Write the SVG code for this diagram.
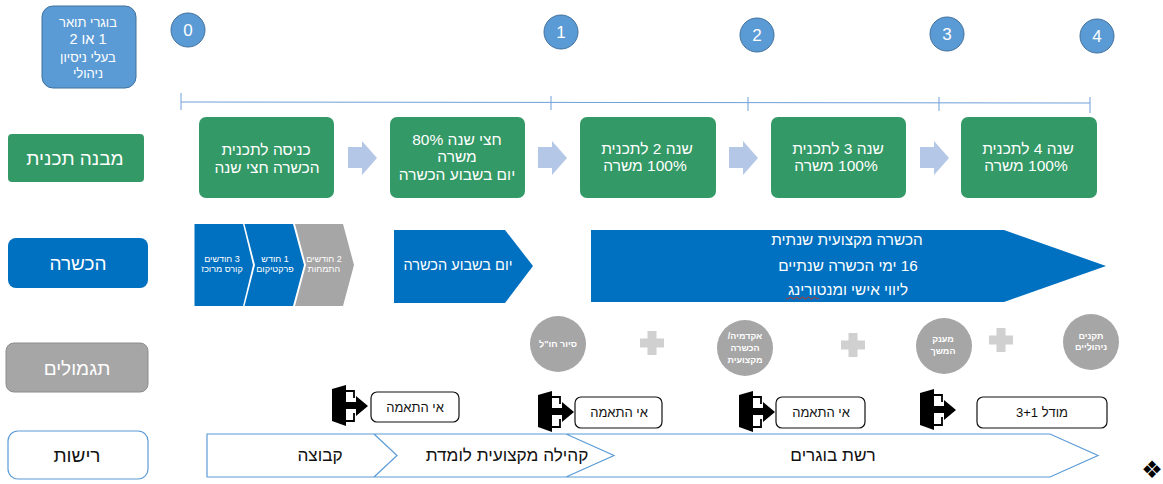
<svg xmlns="http://www.w3.org/2000/svg" width="1163" height="484" viewBox="0 0 1163 484">
<style>
text{font-family:"Liberation Sans",Arial,sans-serif;text-anchor:middle;direction:rtl;unicode-bidi:plaintext}
.w{fill:#fff}.k{fill:#111}
.g{fill:#339966}.b{fill:#0070C0}.gr{fill:#A6A6A6}
.t13{font-size:13px}.t14{font-size:14.5px}.t15{font-size:15.500px}.t15b{font-size:15.300px}.t17{font-size:17.200px}.t19{font-size:19px}.t8{font-size:9px}.t9{font-size:9px;font-weight:bold}
.num{font-size:17px;fill:#fff}
.c{fill:#5B9BD5;stroke:#41719C;stroke-width:1}
.ln{stroke:#6E9FD8;stroke-width:1;fill:none}
.blk{fill:#B4C7E7}
.plus{fill:#D0D0D0}
.tag{fill:#fff;stroke:#111;stroke-width:1.2}
.net{fill:none;stroke:#5B9BD5;stroke-width:1.2}
</style>
<defs>
<path id="ar" d="M0 6H14V0L29 17L14 34V27H0Z"/>
<path id="pl" d="M-4.500 -12H4.500V-4.500H12V4.500H4.500V12H-4.500V4.500H-12V-4.500H-4.500Z"/>
<g id="door">
<path d="M1 4L15 0V41L1 36Z" fill="#000"/>
<path d="M15 6H23V13M23 28V36H15" fill="none" stroke="#000" stroke-width="1.800"/>
<path d="M15 17H25V11L37 21L25 31V24H15Z" fill="#000"/>
</g>
</defs>

<g id="connectors">
<path class="ln" d="M181 102L1090 103M181 93V110M551 96V110M748 97V111M939 97V111M1090 97V113"/>
<use href="#ar" x="348" y="141" class="blk"/>
<use href="#ar" x="538" y="141" class="blk"/>
<use href="#ar" x="729" y="141" class="blk"/>
<use href="#ar" x="920" y="141" class="blk"/>
</g>

<g id="graduates"><rect class="c" x="42" y="6" width="94" height="82" rx="11"/>
<text class="w t13" x="88" y="27">בוגרי תואר</text><text class="w t14" x="88" y="44">1 או 2</text><text class="w t13" x="88" y="62">בעלי ניסיון</text><text class="w t13" x="88" y="78">ניהולי</text></g>
<g id="step0"><circle class="c" cx="188" cy="30" r="17"/><text class="num" x="188" y="36">0</text></g>
<g id="step1"><circle class="c" cx="561" cy="32" r="17"/><text class="num" x="561" y="38">1</text></g>
<g id="step2"><circle class="c" cx="757" cy="35" r="17"/><text class="num" x="757" y="41">2</text></g>
<g id="step3"><circle class="c" cx="947" cy="34" r="17"/><text class="num" x="947" y="40">3</text></g>
<g id="step4"><circle class="c" cx="1097" cy="36" r="17"/><text class="num" x="1097" y="42">4</text></g>

<g id="label-structure"><rect class="g" x="8" y="134" width="136" height="48" rx="4"/><text class="w t19" x="75" y="165">מבנה תכנית</text></g>
<g id="year0"><rect class="g" x="199" y="117" width="135" height="81" rx="7"/><text class="w t15" x="266" y="155">כניסה לתכנית</text><text class="w t15" x="267" y="173">הכשרה חצי שנה</text></g>
<g id="year05"><rect class="g" x="390" y="117" width="135" height="81" rx="7"/><text class="w t15" x="457" y="145">חצי שנה 80%</text><text class="w t15" x="457" y="162">משרה</text><text class="w t15" x="457" y="180">יום בשבוע הכשרה</text></g>
<g id="year2"><rect class="g" x="580" y="117" width="136" height="81" rx="7"/><text class="w t15" x="647" y="154">שנה 2 לתכנית</text><text class="w t15" x="645" y="171">100% משרה</text></g>
<g id="year3"><rect class="g" x="771" y="117" width="135" height="81" rx="7"/><text class="w t15" x="838" y="154">שנה 3 לתכנית</text><text class="w t15" x="836" y="171">100% משרה</text></g>
<g id="year4"><rect class="g" x="961" y="117" width="136" height="81" rx="7"/><text class="w t15" x="1028" y="154">שנה 4 לתכנית</text><text class="w t15" x="1026" y="171">100% משרה</text></g>

<g id="label-training"><rect class="b" x="8" y="238" width="140" height="50" rx="8"/><text class="w t19" x="78" y="270">הכשרה</text></g>
<g id="chevron1"><path class="b" d="M194.500 224H243L253 265L243 306H194.500Z"/><text class="w t8" x="222" y="262">3 חודשים</text><text class="w t8" x="222" y="272">קורס מרוכז</text></g>
<g id="chevron2"><path class="b" d="M244.500 224H293L304 265L293 306H244.500L255 265Z"/><text class="w t8" x="275" y="262">1 חודש</text><text class="w t8" x="275" y="272">פרקטיקום</text></g>
<g id="chevron3"><path class="gr" d="M295 224H343L354 265L343 306H295L306 265Z"/><text class="w t8" x="324" y="262">2 חודשים</text><text class="w t8" x="324" y="272">התמחות</text></g>
<g id="weekly"><path class="b" d="M394 230H505L533 266L505 303H394Z"/><text class="w t14" x="458" y="270">יום בשבוע הכשרה</text></g>
<g id="annual"><path class="b" d="M591 230H1004L1106 266L1004 302H591Z"/>
<text class="w t15b" x="847" y="245">הכשרה מקצועית שנתית</text><text class="w t15b" x="848" y="271">16 ימי הכשרה שנתיים</text><text class="w t15b" x="848" y="295">ליווי אישי ומנטורינג</text>
<path d="M786 298q1.500 2 3 0t3 0t3 0t3 0t3 0t3 0t3 0t3 0t3 0t3 0t3 0" fill="none" stroke="#C0392B" stroke-width="1"/></g>

<g id="label-perks"><rect fill="#A6A6A6" stroke="#8C8C8C" x="6" y="343" width="142" height="49" rx="8"/><text class="w t19" x="77" y="375">תגמולים</text></g>
<g id="perk1"><circle class="gr" cx="558" cy="344" r="28"/><text class="w t9" x="558" y="347">סיור חו"ל</text></g>
<g id="perk2"><circle class="gr" cx="745" cy="348" r="28"/><text class="w t9" x="745" y="339">אקדמיה/</text><text class="w t9" x="745" y="351">הכשרה</text><text class="w t9" x="745" y="363">מקצועית</text></g>
<g id="perk3"><circle class="gr" cx="944" cy="346" r="28"/><text class="w t9" x="943" y="342">מענק</text><text class="w t9" x="943" y="354">המשך</text></g>
<g id="perk4"><circle class="gr" cx="1091" cy="342" r="28"/><text class="w t9" x="1091" y="339">תקנים</text><text class="w t9" x="1091" y="350">ניהוליים</text></g>
<g id="plus1"><use href="#pl" class="plus" x="652" y="343"/></g>
<g id="plus2"><use href="#pl" class="plus" x="853" y="345"/></g>
<g id="plus3"><use href="#pl" class="plus" x="1001" y="340"/></g>

<g id="exit1"><use href="#door" x="331" y="385"/><rect class="tag" x="371" y="392" width="88" height="30" rx="6"/><text class="k t13" x="415" y="412">אי התאמה</text></g>
<g id="exit2"><use href="#door" x="537" y="391"/><rect class="tag" x="575" y="397" width="87" height="31" rx="6"/><text class="k t13" x="619" y="417">אי התאמה</text></g>
<g id="exit3"><use href="#door" x="738" y="391"/><rect class="tag" x="776" y="397" width="89" height="31" rx="6"/><text class="k t13" x="821" y="417">אי התאמה</text></g>
<g id="exit4"><use href="#door" x="919" y="389"/><rect class="tag" x="977" y="397" width="130" height="31" rx="6"/><text class="k t13" x="1042" y="417">מודל 3+1</text></g>

<g id="label-network"><rect fill="#fff" stroke="#5B9BD5" stroke-width="1.200" x="8" y="431" width="140" height="48" rx="10"/><text class="k t19" x="77" y="462">רישות</text></g>
<g id="network"><path class="net" d="M207 434H1050L1098 455.500L1050 477H207ZM374 434L397 455.500L374 477M566 434L614 455.500L566 477"/>
<text class="k t17" x="320" y="461">קבוצה</text><text class="k t17" x="507" y="461">קהילה מקצועית לומדת</text><text class="k t17" x="833" y="461">רשת בוגרים</text></g>
<g id="bullet"><text x="1152" y="478" style="font-family:'DejaVu Sans',sans-serif;font-size:24px;direction:ltr" fill="#000">❖</text></g>
</svg>
